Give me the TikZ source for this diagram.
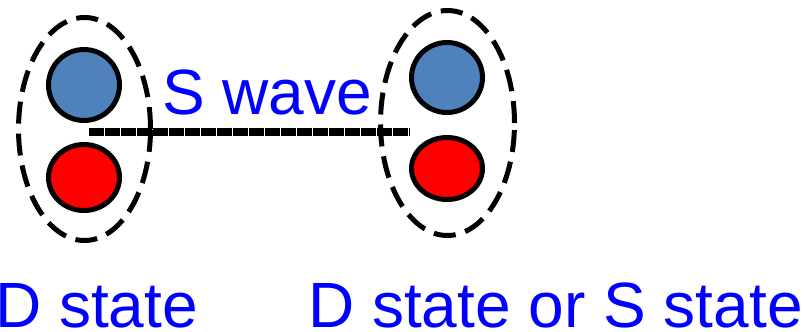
\documentclass[tikz,border=0pt]{standalone}
\usepackage{fontspec}
\setmainfont{Liberation Sans}
\usetikzlibrary{shapes.geometric}
\definecolor{ballblue}{RGB}{79,129,189}
\definecolor{labelblue}{RGB}{0,0,255}
\tikzset{
  ball/.style={ellipse, draw=black, line width=5bp, inner sep=0pt},
  group/.style={ellipse, draw=black, line width=5bp, dash pattern=on 22bp off 10bp, inner sep=0pt},
  lbl/.style={anchor=base west, inner sep=0pt, text=labelblue, font=\fontsize{64bp}{70bp}\selectfont},
  wave/.style={line width=7.5bp, dash pattern=on 15.4bp off 0.6bp}
}
\begin{document}
\begin{tikzpicture}[x=1bp,y=-1bp]
\useasboundingbox (0,0) rectangle (804,331);
% groups
\node[group, minimum width=132bp, minimum height=223bp] (gl) at (84.5,129) {};
\node[group, minimum width=134bp, minimum height=225bp] (gr) at (447.5,123) {};
% connector
\coordinate (wl) at (89,132);
\coordinate (wr) at (410,132);
\draw[wave] (wl) -- (wr);
% balls
\node[ball, fill=ballblue, minimum width=71bp, minimum height=71bp] (bl) at (84,85) {};
\node[ball, fill=red, minimum width=71bp, minimum height=66bp] (rl) at (84,177.5) {};
\node[ball, fill=ballblue, minimum width=71bp, minimum height=70bp] (br) at (447,77.5) {};
\node[ball, fill=red, minimum width=71bp, minimum height=62bp] (rr) at (447,168.5) {};
% labels
\node[lbl] (sw) at (162,114) {S wave};
\node[lbl] (dl) at (-5,327) {D state};
\node[lbl] (dr) at (308,327) {D state or S state};
\end{tikzpicture}
\end{document}
